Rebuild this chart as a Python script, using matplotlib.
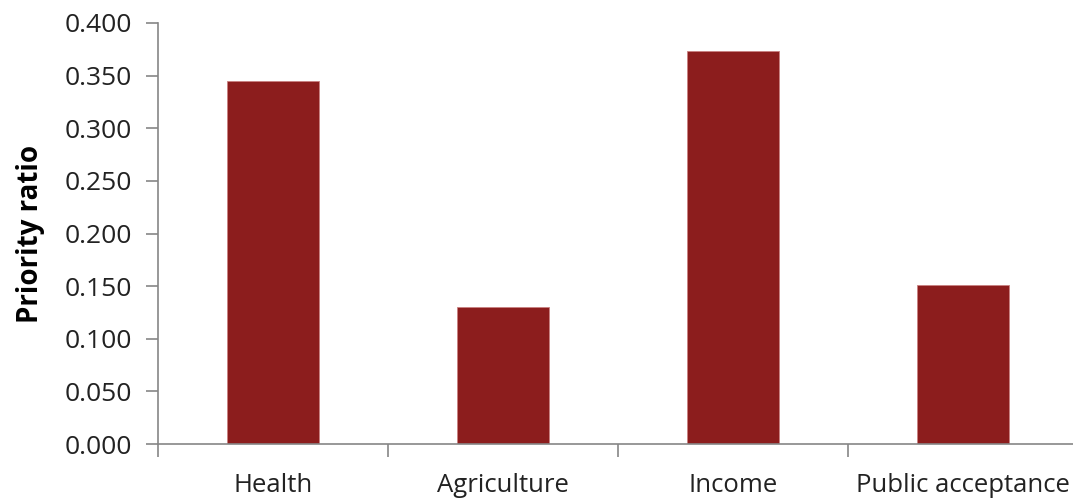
import matplotlib.pyplot as plt
import numpy as np

categories = ["Health", "Agriculture", "Income", "Public acceptance"]
priority = [0.345, 0.130, 0.373, 0.151]
yticks = [0.0, 0.05, 0.10, 0.15, 0.20, 0.25, 0.30, 0.35, 0.40]

plt.rcParams['font.family'] = ['Open Sans', 'DejaVu Sans']

fig = plt.figure(figsize=(10.73, 4.99), dpi=100)
ax = fig.add_axes([158 / 1073, 55 / 499, 920 / 1073, 421 / 499])

x = np.arange(len(categories))
ax.bar(x, priority, width=0.4, color="#8c1d1d", edgecolor="#c98080", linewidth=0.6)

ax.set_xlim(-0.5, len(categories) - 0.5)
ax.set_ylim(0, 0.4)
ax.set_yticks(yticks)
ax.set_yticklabels([f"{v:.3f}" for v in yticks], fontsize=19, color="#222222")

ax.set_xticks(x)
ax.set_xticklabels(categories, fontsize=18.5, color="#222222")
ax.set_xticks(np.arange(len(categories) + 1) - 0.5, minor=True)
ax.tick_params(axis="x", which="major", length=0, pad=21)
ax.tick_params(axis="x", which="minor", length=9, color="#868686", width=1.2)
ax.tick_params(axis="y", length=9, color="#868686", width=1.2, pad=10)

for s in ["top", "right"]:
    ax.spines[s].set_visible(False)
for s in ["left", "bottom"]:
    ax.spines[s].set_color("#868686")
    ax.spines[s].set_linewidth(1.2)

ax.set_ylabel("Priority ratio", fontsize=20, fontweight="bold", labelpad=14)

fig.savefig("out.png", dpi=100)
